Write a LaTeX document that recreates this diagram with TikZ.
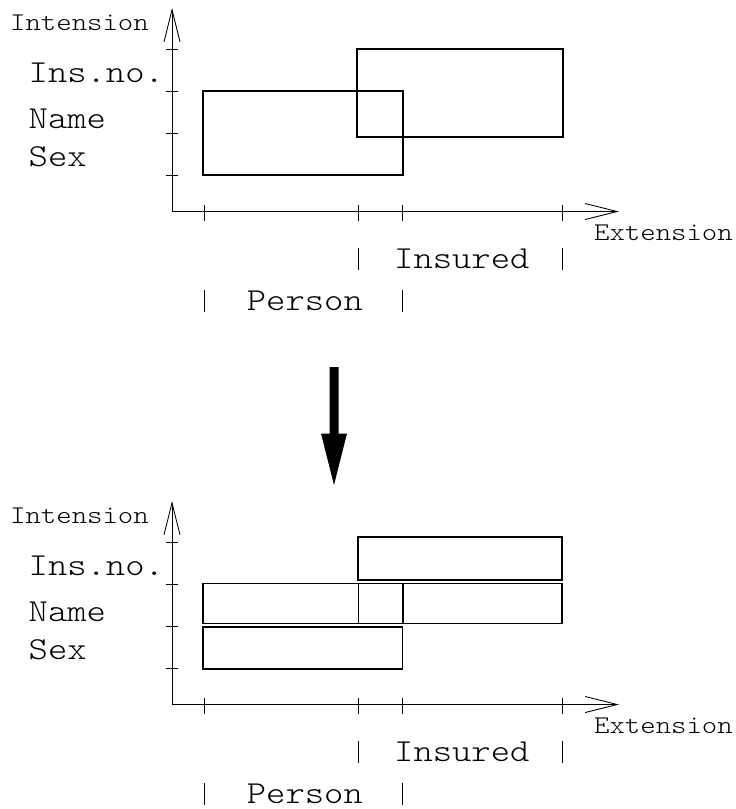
\documentclass[tikz,border=0pt]{standalone}
\usepackage{fontspec}
\newfontfamily\courfont{Latin Modern Mono Light}[FakeStretch=1.15]
\usetikzlibrary{arrows.meta}

\tikzset{
  axisline/.style={line width=0.9pt, -{Straight Barb[length=32pt, width=16pt, line width=0.9pt]}},
  tickline/.style={line width=0.9pt},
  setbox/.style={draw, line width=1.1pt},
  barline/.style={line width=0.9pt},
  biglabel/.style={anchor=base west, inner sep=0pt, font=\courfont\fontsize{32}{32}\selectfont},
  smalllabel/.style={anchor=base west, inner sep=0pt, font=\courfont\fontsize{25.5}{25.5}\selectfont},
  bigarrow/.style={fill=black, draw=none}
}

% Axes, ticks and labels shared by both diagrams
\newcommand{\attrframe}{%
  \coordinate (origin) at (172,211.5);
  \coordinate (ytop) at (172,8);
  \coordinate (xend) at (619,211.5);
  \draw[axisline] (origin) -- (ytop);
  \draw[axisline] (origin) -- (xend);
  \foreach \ty in {49,91,133,175}
    \draw[tickline] (166,\ty) -- (178,\ty);
  \foreach \tx in {204,358,402,562}
    \draw[tickline] (\tx,205) -- (\tx,221);
  \node[smalllabel] (intension) at (10,30.7) {Intension};
  \node[smalllabel] (extension) at (594,240.7) {Extension};
  \node[biglabel] (insno) at (28.5,82.7) {Ins.no.};
  \node[biglabel] (name) at (28.5,128.3) {Name};
  \node[biglabel] (sex) at (28.5,166.7) {Sex};
  \node[biglabel] (insured) at (394,268) {Insured};
  \node[biglabel] (person) at (246.7,310) {Person};
  \draw[barline] (358,248) -- (358,270);
  \draw[barline] (562,248) -- (562,270);
  \draw[barline] (204.5,290) -- (204.5,312);
  \draw[barline] (402,290) -- (402,312);
}

\begin{document}
\begin{tikzpicture}[x=1pt, y=-1pt]
  \useasboundingbox (0,0) rectangle (736,809);

  % before: overlapping extents
  \begin{scope}[name prefix=a-]
    \attrframe
    \draw[setbox] (203,91) rectangle (403,175);
    \draw[setbox] (357,49) rectangle (563,137);
  \end{scope}

  % transformation arrow
  \fill[bigarrow] (329.5,367) -- (338.5,367) -- (338.5,433.5) -- (347,433.5)
    -- (334,485) -- (321,433.5) -- (329.5,433.5) -- cycle;

  % after: split into per-attribute tables
  \begin{scope}[shift={(0,493)}, name prefix=b-]
    \attrframe
  \end{scope}
  \draw[setbox] (358,537) rectangle (562,580);
  \draw[setbox] (203,583.5) rectangle (358.5,623.5);
  \draw[setbox] (358.5,583.5) rectangle (403,623.5);
  \draw[setbox] (403,583.5) rectangle (562,623.5);
  \draw[setbox] (203,627) rectangle (402.5,669);
\end{tikzpicture}
\end{document}
